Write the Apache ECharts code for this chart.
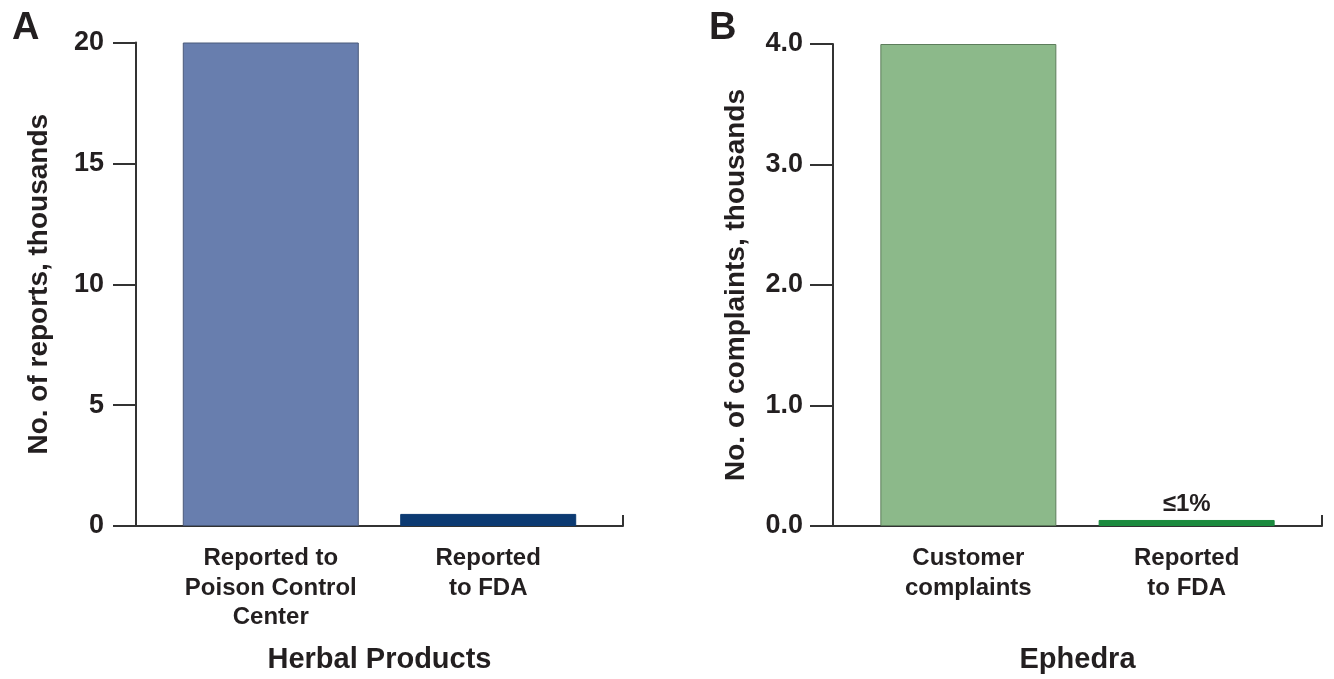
<!DOCTYPE html>
<html>
<head>
<meta charset="utf-8">
<script src="https://cdn.jsdelivr.net/npm/echarts@6/dist/echarts.min.js"></script>
<style>
html,body{margin:0;padding:0;background:#fff;}
#chart{width:1334px;height:679px;}
</style>
</head>
<body>
<div id="chart"></div>
<script>
// Panel A: Herbal Products
const catsA = ['Reported to\nPoison Control\nCenter', 'Reported\nto FDA'];
const valuesA = [20, 0.5];
const colorsA = ['#687eae', '#0c3a72'];
const ticksA = { min: 0, max: 20, interval: 5 };

// Panel B: Ephedra
const catsB = ['Customer\ncomplaints', 'Reported\nto FDA'];
const valuesB = [4.0, 0.05];
const colorsB = ['#8cb98a', '#1b8a3e'];
const ticksB = { min: 0, max: 4, interval: 1 };
const labelB = ['', '≤1%'];

const FONT = '"Liberation Sans", Arial, Helvetica, sans-serif';
const TXT = '#231f20';
const XMIN = -0.62, XMAX = 1.62;

function xAxis(idx, cats, name) {
  return {
    type: 'value', gridIndex: idx, min: XMIN, max: XMAX,
    name: name, nameLocation: 'middle', nameGap: 119,
    nameTextStyle: { fontFamily: FONT, fontWeight: 'bold', fontSize: 29, color: TXT, lineHeight: 29 },
    splitLine: { show: false },
    axisLine: { onZero: false, lineStyle: { color: '#333', width: 2 } },
    axisTick: { show: true, inside: true, length: 11, customValues: [XMAX], lineStyle: { color: '#333', width: 2 } },
    axisLabel: {
      customValues: [0, 1],
      formatter: v => cats[Math.round(v)],
      fontFamily: FONT, fontWeight: 'bold', fontSize: 24, lineHeight: 29.5, color: TXT, margin: 18
    }
  };
}
function yAxis(idx, t, name, fmt, margin) {
  return {
    type: 'value', gridIndex: idx, min: t.min, max: t.max, interval: t.interval,
    name: name, nameLocation: 'middle', nameGap: 83,
    nameTextStyle: { fontFamily: FONT, fontWeight: 'bold', fontSize: 28, color: TXT, lineHeight: 28 },
    splitLine: { show: false },
    axisLine: { show: true, onZero: false, lineStyle: { color: '#333', width: 2 } },
    axisTick: { show: true, length: 23, lineStyle: { color: '#333', width: 2 } },
    axisLabel: { formatter: fmt, fontFamily: FONT, fontWeight: 'bold', fontSize: 27, color: TXT, margin: margin }
  };
}

const chart = echarts.init(document.getElementById('chart'), null, { renderer: 'canvas' });
chart.setOption({
  backgroundColor: '#fff',
  animation: false,
  title: [
    { text: 'A', left: 7, top: 5, textStyle: { fontFamily: FONT, fontWeight: 'bold', fontSize: 38, color: TXT } },
    { text: 'B', left: 704, top: 5, textStyle: { fontFamily: FONT, fontWeight: 'bold', fontSize: 38, color: TXT } }
  ],
  grid: [
    { left: 136, top: 42.5, width: 487, height: 489 },
    { left: 833, top: 44, width: 489, height: 489 }
  ],
  xAxis: [ xAxis(0, catsA, 'Herbal Products'), xAxis(1, catsB, 'Ephedra') ],
  yAxis: [
    yAxis(0, ticksA, 'No. of reports, thousands', v => String(v), 32),
    yAxis(1, ticksB, 'No. of complaints, thousands', v => v.toFixed(1), 30)
  ],
  series: [
    {
      type: 'bar', xAxisIndex: 0, yAxisIndex: 0, barWidth: 176,
      data: valuesA.map((v, i) => ({ value: [i, v], itemStyle: { color: colorsA[i], borderColor: i === 0 ? '#4a5a7a' : colorsA[i], borderWidth: 1 } }))
    },
    {
      type: 'bar', xAxisIndex: 1, yAxisIndex: 1, barWidth: 176,
      data: valuesB.map((v, i) => ({ value: [i, v], itemStyle: { color: colorsB[i], borderColor: i === 0 ? '#5d7d5c' : colorsB[i], borderWidth: 1 } })),
      label: {
        show: true, position: 'top', distance: 4,
        formatter: p => labelB[p.dataIndex],
        fontFamily: FONT, fontWeight: 'bold', fontSize: 24, color: TXT
      }
    }
  ]
});
</script>
</body>
</html>
